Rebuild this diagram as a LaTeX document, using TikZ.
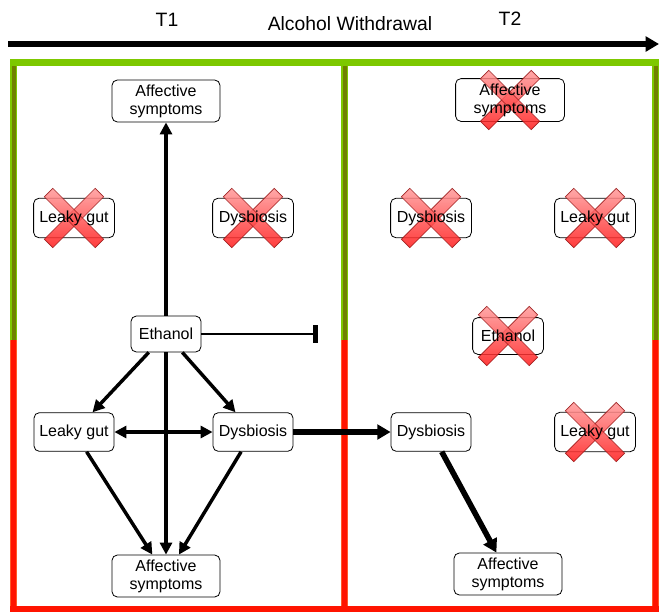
\documentclass[tikz,border=0pt]{standalone}
\usepackage{fontspec}
\setmainfont{Liberation Sans}
\usetikzlibrary{arrows.meta}
\pgfdeclarelayer{boxlayer}
\pgfdeclarelayer{xlayer}
\pgfsetlayers{boxlayer,xlayer,main}
\definecolor{bargreen}{RGB}{125,200,0}
\definecolor{barolive}{RGB}{112,128,0}
\definecolor{barred}{RGB}{255,20,0}
\definecolor{barorange}{RGB}{255,90,40}
\definecolor{xedge}{RGB}{150,20,20}
\tikzset{
  box/.style={draw=black, line width=0.6pt, rounded corners=4pt, fill=white, align=center,
    inner sep=0pt, font=\fontsize{12}{13.5}\selectfont},
  xbox/.style={draw=none, fill=none},
  boxaff/.style={box, minimum width=81pt, minimum height=31.5pt},
  boxmid/.style={box, minimum width=60pt, minimum height=29pt},
  boxeth/.style={box, minimum width=52.5pt, minimum height=27pt},
  frame/.style={draw=black, line width=0.6pt, rounded corners=4pt, fill=white},
  arr/.style={line width=2.6pt, -{Triangle[length=9pt,width=9pt]}},
  dblarr/.style={line width=2.6pt, {Triangle[length=9pt,width=9pt]}-{Triangle[length=9pt,width=9pt]}},
  bigarr/.style={line width=4.2pt, -{Triangle[length=10pt,width=11pt]}},
  toparr/.style={line width=3.8pt, -{Triangle[length=10pt,width=11pt]}},
  inhib/.style={line width=0.8pt, -{Rectangle[length=4pt,width=13pt]}},
  ttl/.style={font=\fontsize{14.5}{16}\selectfont},
  redx/.pic={
    \foreach \a in {45,-45}{
      \draw[draw=xedge, line width=0.5pt, top color=red!40, bottom color=red!90,
        fill opacity=0.85, draw opacity=0.9, rotate=\a] (-36,-6) rectangle (36,6);
    }
  }
}
\newcommand{\crossed}[1]{%
  \begin{pgfonlayer}{boxlayer}
    \draw[frame] (#1.south west) rectangle (#1.north east);
  \end{pgfonlayer}
  \begin{pgfonlayer}{xlayer}
    \pic at (#1) {redx};
  \end{pgfonlayer}}
\begin{document}
\begin{tikzpicture}[x=0.75pt, y=-0.75pt]
\useasboundingbox (0,0) rectangle (659,612);
% frame bars
\begin{pgfonlayer}{boxlayer}
\fill[bargreen] (10,59) rectangle (659,66);
\foreach \x in {10,341,652}{
  \fill[barolive] (\x,66) rectangle ++(7,274);
  \fill[bargreen] (\x,66) rectangle ++(1.5,274);
  \fill[bargreen] (\x+5.5,66) rectangle ++(1.5,274);
  \fill[barred] (\x,340) rectangle ++(7,272);
  \fill[barorange] (\x,340) rectangle ++(1.2,272);
  \fill[barorange] (\x+5.8,340) rectangle ++(1.2,272);
}
\fill[barred] (10,606) rectangle (659,612);
\end{pgfonlayer}
% timeline
\coordinate (ta) at (8,44);
\coordinate (tb) at (659,44);
\draw[toparr] (ta) -- (tb);
\node[ttl] (t1) at (167,20) {T1};
\node[ttl] (aw) at (350,24) {Alcohol Withdrawal};
\node[ttl] (t2) at (510,19) {T2};
% T1 panel
\node[boxaff] (aff1) at (166,101) {Affective\\symptoms};
\node[boxmid, xbox] (lg1) at (74,218) {Leaky gut};
\node[boxmid, xbox] (dy1) at (253,218) {Dysbiosis};
\node[boxeth] (eth) at (166,334) {Ethanol};
\node[boxmid] (lg2) at (74,432) {Leaky gut};
\node[boxmid] (dy2) at (253,432) {Dysbiosis};
\node[boxaff] (aff2) at (166,576) {Affective\\symptoms};
% T2 panel
\node[boxaff, xbox] (affR1) at (510,100) {Affective\\symptoms};
\node[boxmid, xbox] (dyR1) at (431,218) {Dysbiosis};
\node[boxmid, xbox] (lgR1) at (595,218) {Leaky gut};
\node[boxeth, xbox] (ethR) at (508,336) {Ethanol};
\node[boxmid] (dyR) at (431,432) {Dysbiosis};
\node[boxmid, xbox] (lgR2) at (595,432) {Leaky gut};
\node[boxaff] (affR) at (508,574) {Affective\\symptoms};
% connectors
\draw[arr] (eth) -- (aff1);
\draw[arr] (eth) -- (lg2);
\draw[arr] (eth) -- (dy2);
\draw[arr] (eth) -- (aff2);
\draw[dblarr] (lg2) -- (dy2);
\draw[arr] (lg2) -- (aff2);
\draw[arr] (dy2) -- (aff2);
\coordinate (inh) at (318,334);
\draw[inhib] (eth) -- (inh);
\draw[bigarr] (dy2) -- (dyR);
\draw[bigarr] (dyR) -- (affR);
% crosses
\crossed{lg1}
\crossed{dy1}
\crossed{affR1}
\crossed{dyR1}
\crossed{lgR1}
\crossed{ethR}
\crossed{lgR2}
\end{tikzpicture}
\end{document}
